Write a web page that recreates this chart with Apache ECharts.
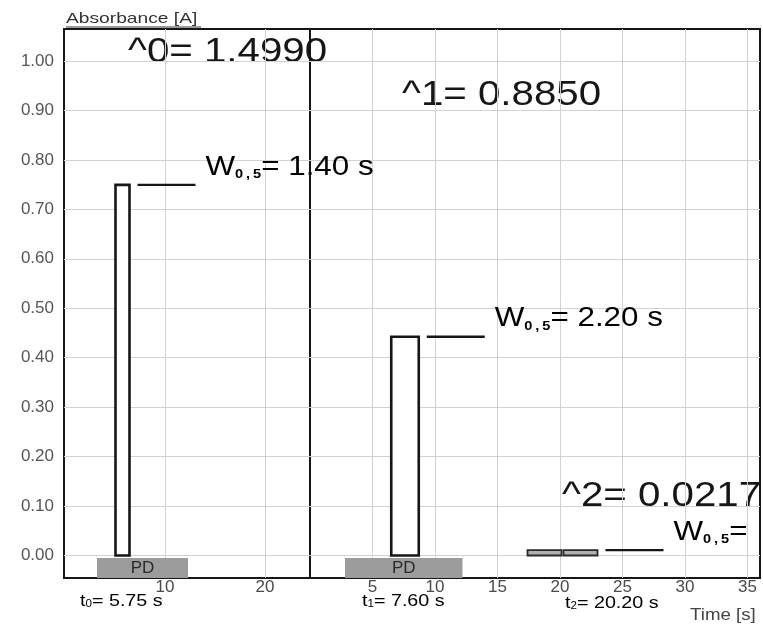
<!DOCTYPE html>
<html>
<head>
<meta charset="utf-8">
<script src="https://cdn.jsdelivr.net/npm/echarts@6/dist/echarts.min.js"></script>
<style>
  html, body { margin: 0; padding: 0; background: #fff; }
  #chart { width: 763px; height: 625px; }
</style>
</head>
<body>
<div id="chart"></div>
<script>
// peaks: which panel they sit in, retention time, height, width at half height
const peakPanel = [0, 1, 1];
const retentionTimes = [5.75, 7.60, 20.20];
const peakHeights = [1.4990, 0.8850, 0.0217];
const peakWidths = [1.40, 2.20, 5.60];        // third value is cut off in the print, estimated
const widthLabels = ['1.40 s', '2.20 s', ''];

// grey "PD" blocks under the axis
const pdPanel = [0, 1];
const pdStart = [3.2, 2.8];
const pdEnd = [12.3, 12.2];

// axis ticks
const yTicks = [0, 0.1, 0.2, 0.3, 0.4, 0.5, 0.6, 0.7, 0.8, 0.9, 1.0];
const xTicksLeft = [10, 20];
const xTicksRight = [5, 10, 15, 20, 25, 30, 35];

const FONT = '"Liberation Sans", Arial, sans-serif';
const INK = '#161616';

const chart = echarts.init(document.getElementById('chart'), null, { renderer: 'canvas' });

function peakData(panel) {
  return retentionTimes
    .map((t, i) => [t, peakHeights[i], peakWidths[i], i])
    .filter(d => peakPanel[d[3]] === panel);
}

function pdData(panel) {
  return pdStart
    .map((s, i) => [s, pdEnd[i], i])
    .filter(d => pdPanel[d[2]] === panel);
}

const wRich = {
  w: { fontFamily: FONT, fontSize: 28, color: INK },
  s: { fontFamily: FONT, fontSize: 13, fontWeight: 'bold', color: INK, verticalAlign: 'bottom' }
};

function renderPeak(params, api) {
  const t = api.value(0);
  const half = api.value(1) / 2;
  const w = api.value(2);
  const i = api.value(3);
  const lo = api.coord([t - w / 2, 0]);
  const mid = api.coord([t, half]);
  const hi = api.coord([t + w / 2, half]);
  const children = [];

  if (half < 0.05) {
    // tiny peak: drawn as two flat grey boxes split at the apex
    children.push({
      type: 'rect',
      shape: { x: lo[0], y: hi[1], width: mid[0] - lo[0] - 1, height: lo[1] - hi[1] },
      style: { fill: '#b0b0b0', stroke: '#2a2a2a', lineWidth: 1.8 }
    });
    children.push({
      type: 'rect',
      shape: { x: mid[0] + 1, y: hi[1], width: hi[0] - mid[0] - 1, height: lo[1] - hi[1] },
      style: { fill: '#b0b0b0', stroke: '#2a2a2a', lineWidth: 1.8 }
    });
  } else {
    children.push({
      type: 'rect',
      shape: { x: lo[0], y: hi[1], width: hi[0] - lo[0], height: lo[1] - hi[1] },
      style: { fill: '#fff', stroke: INK, lineWidth: 2.6 }
    });
  }

  const lx = hi[0] + 8;
  children.push({
    type: 'line',
    shape: { x1: lx, y1: hi[1], x2: lx + 58, y2: hi[1] },
    style: { stroke: INK, lineWidth: 2.4 }
  });
  children.push({
    type: 'text',
    x: lx + 68,
    y: hi[1] - 18,
    scaleX: 1.12,
    style: {
      text: '{w|W}{s|0\u2009,\u20095}{w|= ' + widthLabels[i] + '}',
      rich: wRich,
      verticalAlign: 'middle'
    }
  });
  return { type: 'group', children: children };
}

function renderPD(params, api) {
  const a = api.coord([api.value(0), -0.005]);
  const b = api.coord([api.value(1), -0.0455]);
  return {
    type: 'group',
    children: [
      {
        type: 'rect',
        shape: { x: a[0], y: a[1], width: b[0] - a[0], height: b[1] - a[1] },
        style: { fill: '#9c9c9c' }
      },
      {
        type: 'text',
        x: (a[0] + b[0]) / 2,
        y: (a[1] + b[1]) / 2,
        style: {
          text: 'PD', fontFamily: FONT, fontSize: 17, fill: '#2a2a2a',
          align: 'center', verticalAlign: 'middle'
        }
      }
    ]
  };
}

const yAxisBase = {
  type: 'value',
  min: -0.0455,
  max: 1.0647,
  axisLine: { show: false },
  axisTick: { show: false, customValues: yTicks },
  splitLine: { show: true, lineStyle: { color: '#d2d2d2', width: 1 } }
};

const xLabel = { fontFamily: FONT, fontSize: 17, color: '#4a4a4a', margin: 1 };

function subText(main, sub, rest, size) {
  return {
    text: '{a|' + main + '}{b|' + sub + '}{a|' + rest + '}',
    rich: {
      a: { fontFamily: FONT, fontSize: size, color: '#333' },
      b: { fontFamily: FONT, fontSize: Math.round(size * 0.6), color: '#333', verticalAlign: 'bottom' }
    },
    verticalAlign: 'middle'
  };
}

function bigText(x, y, txt) {
  return {
    type: 'text', x: x, y: y, scaleX: 1.15,
    style: { text: txt, fontFamily: FONT, fontSize: 35, fill: INK, verticalAlign: 'middle' }
  };
}

const option = {
  animation: false,
  backgroundColor: '#fff',
  grid: [
    { left: 64, top: 29, width: 246, height: 549, show: true, borderColor: INK, borderWidth: 2, backgroundColor: '#fff' },
    { left: 310, top: 29, width: 450, height: 549, show: true, borderColor: INK, borderWidth: 2, backgroundColor: '#fff' }
  ],
  xAxis: [
    {
      gridIndex: 0, type: 'value', min: -0.1, max: 24.5,
      axisLine: { show: false },
      axisTick: { show: false, customValues: xTicksLeft },
      axisLabel: Object.assign({ customValues: xTicksLeft }, xLabel),
      splitLine: { show: true, lineStyle: { color: '#d2d2d2' } }
    },
    {
      gridIndex: 1, type: 'value', min: 0, max: 36,
      axisLine: { show: false },
      axisTick: { show: false, customValues: xTicksRight },
      axisLabel: Object.assign({ customValues: xTicksRight }, xLabel),
      splitLine: { show: true, lineStyle: { color: '#d2d2d2' } }
    }
  ],
  yAxis: [
    Object.assign({}, yAxisBase, {
      gridIndex: 0,
      axisLabel: {
        customValues: yTicks,
        formatter: v => v.toFixed(2),
        fontFamily: FONT, fontSize: 17, color: '#555', margin: 10
      }
    }),
    Object.assign({}, yAxisBase, {
      gridIndex: 1,
      axisLabel: { show: false, customValues: yTicks }
    })
  ],
  series: [
    { type: 'custom', xAxisIndex: 0, yAxisIndex: 0, data: pdData(0), renderItem: renderPD, z: 3 },
    { type: 'custom', xAxisIndex: 1, yAxisIndex: 1, data: pdData(1), renderItem: renderPD, z: 3 },
    { type: 'custom', xAxisIndex: 0, yAxisIndex: 0, data: peakData(0), renderItem: renderPeak, z: 4 },
    { type: 'custom', xAxisIndex: 1, yAxisIndex: 1, data: peakData(1), renderItem: renderPeak, z: 4 }
  ],
  graphic: [
    {
      type: 'text', x: 66, y: 19, scaleX: 1.28,
      style: { text: 'Absorbance [A]', fontFamily: FONT, fontSize: 15, fill: '#333', verticalAlign: 'middle' }
    },
    { type: 'line', shape: { x1: 66, y1: 27, x2: 201, y2: 27 }, style: { stroke: '#333', lineWidth: 1 } },
    bigText(128, 52, '^0= ' + peakHeights[0].toFixed(4)),
    bigText(402, 95, '^1= ' + peakHeights[1].toFixed(4)),
    bigText(562, 496, '^2= ' + peakHeights[2].toFixed(4)),
    { type: 'text', x: 80, y: 601, scaleX: 1.16, style: subText('t', '0', '= ' + retentionTimes[0].toFixed(2) + ' s', 17) },
    { type: 'text', x: 362, y: 601, scaleX: 1.16, style: subText('t', '1', '= ' + retentionTimes[1].toFixed(2) + ' s', 17) },
    { type: 'text', x: 565, y: 603, scaleX: 1.16, style: subText('t', '2', '= ' + retentionTimes[2].toFixed(2) + ' s', 17) },
    {
      type: 'text', x: 690, y: 615, scaleX: 1.1,
      style: { text: 'Time [s]', fontFamily: FONT, fontSize: 17, fill: '#444', verticalAlign: 'middle' }
    }
  ]
};

chart.setOption(option);
</script>
</body>
</html>
